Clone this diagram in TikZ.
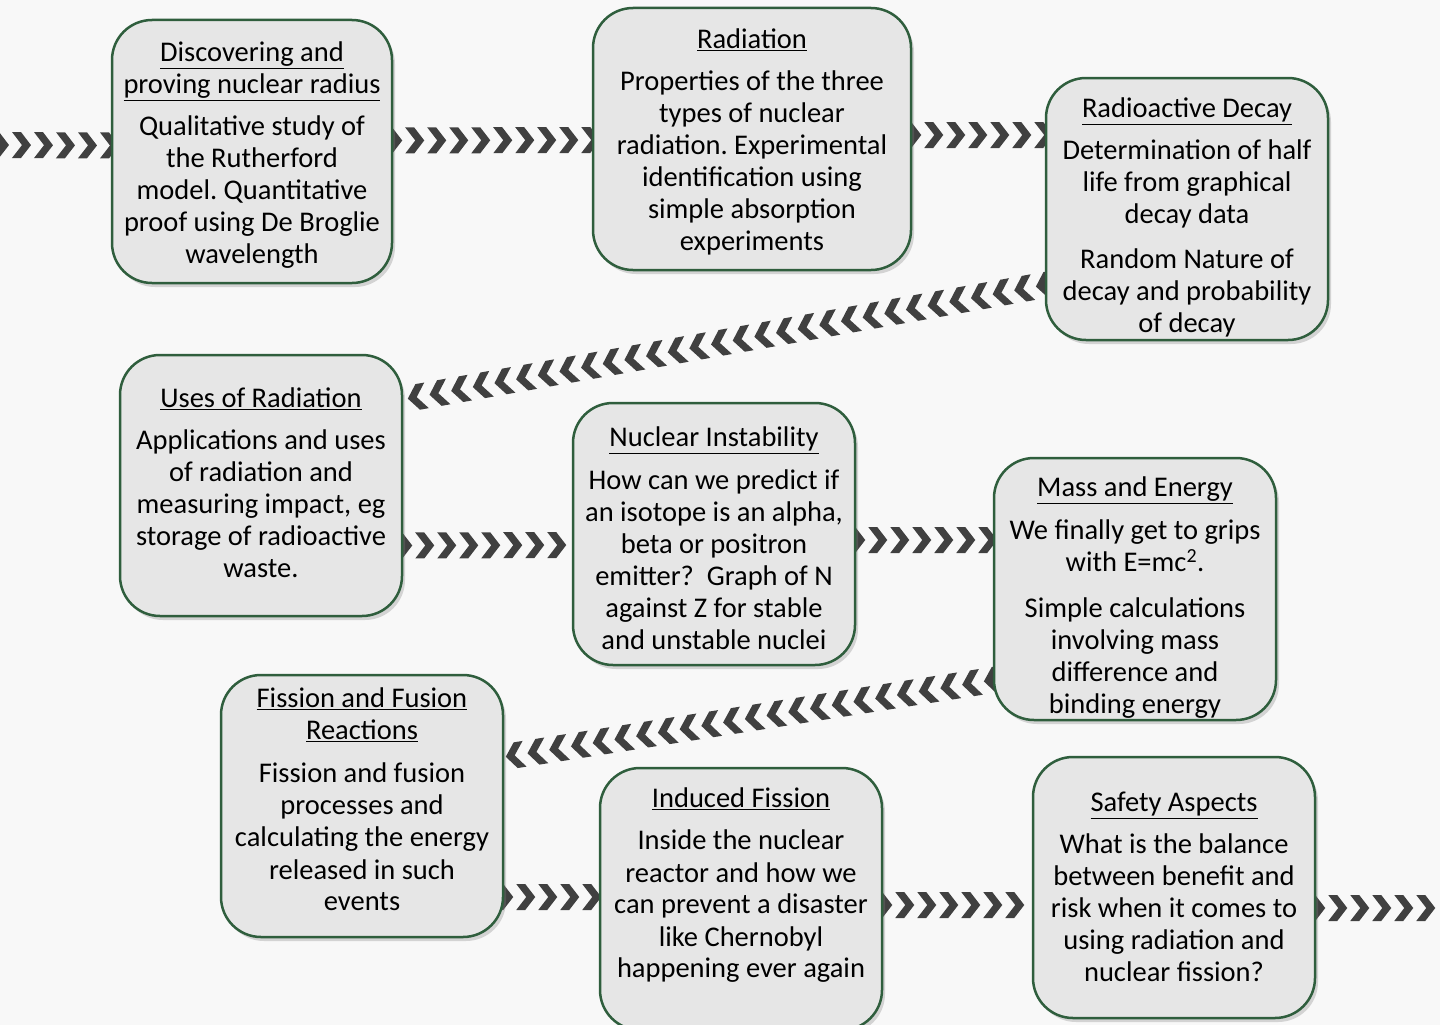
\documentclass[tikz,border=0pt]{standalone}
\usepackage{fontspec}
\setmainfont{Carlito}
\frenchspacing
\usetikzlibrary{positioning, calc, shadows, decorations.markings, backgrounds}
\definecolor{boxgreen}{HTML}{2F5E3D}
\definecolor{boxgrey}{HTML}{E6E6E6}
\definecolor{chevgrey}{HTML}{404040}
\definecolor{pagegrey}{HTML}{F8F8F8}
\tikzset{x=1pt, y=-1pt,
  topic/.style={draw=boxgreen, line width=2.5pt, fill=boxgrey, rounded corners=40pt,
    minimum width=282pt, minimum height=262pt,
    drop shadow={opacity=0.3, shadow xshift=3pt, shadow yshift=-4pt}},
  blurb/.style={anchor=north, align=center, inner sep=0pt, font=\fontsize{28.5}{32}\selectfont},
  chevrons/.style={decoration={markings, mark=between positions 0 and 1 step 22pt with
    {\fill[chevgrey] (-10pt,13pt) -- (-1pt,13pt) -- (9pt,0pt) -- (-1pt,-13pt) -- (-10pt,-13pt) -- (0pt,0pt) -- cycle;}},
    decorate}
}

\begin{document}
\begin{tikzpicture}
    \useasboundingbox (0,0) rectangle (1440,1025);
    % topic boxes
    \node[topic, minimum width=280pt, minimum height=263pt] (radius) at (252,151.5) {};
    \node[topic, minimum width=318pt] (radiation) at (752,139) {};
    \node[topic] (decay) at (1187,209) {};
    \node[topic, minimum height=261pt] (uses) at (261,485.5) {};
    \node[topic] (instability) at (714,534) {};
    \node[topic] (massenergy) at (1135,589) {};
    \node[topic] (fission) at (362,806) {};
    \node[topic] (induced) at (741,899) {};
    \node[topic, minimum height=261pt] (safety) at (1174,887.5) {};

    % texts
    \node[blurb] (radius-txt) at (252,42) {\underline{Discovering and}\\\underline{proving nuclear radius}\\[10pt]
        Qualitative study of\\the Rutherford\\model. Quantitative\\proof using De Broglie\\wavelength};
    \node[blurb] (radiation-txt) at (752,29) {\underline{Radiation}\\[10pt]
        Properties of the three\\types of nuclear\\radiation. Experimental\\identification using\\simple absorption\\experiments};
    \node[blurb] (decay-txt) at (1187,98) {\underline{Radioactive Decay}\\[10pt]
        Determination of half\\life from graphical\\decay data\\[13pt]
        Random Nature of\\decay and probability\\of decay};
    \node[blurb] (uses-txt) at (261,388) {\underline{Uses of Radiation}\\[10pt]
        Applications and uses\\of radiation and\\measuring impact, eg\\storage of radioactive\\waste.};
    \node[blurb] (instability-txt) at (714,427) {\underline{Nuclear Instability}\\[11pt]
        How can we predict if\\an isotope is an alpha,\\beta or positron\\emitter?~ Graph of N\\against Z for stable\\and unstable nuclei};
    \node[blurb] (massenergy-txt) at (1135,477) {\underline{Mass and Energy}\\[11pt]
        We finally get to grips\\with E=mc\textsuperscript{2}.\\[14pt]
        Simple calculations\\involving mass\\difference and\\binding energy};
    \node[blurb] (fission-txt) at (362,688) {\underline{Fission and Fusion}\\\underline{Reactions}\\[11pt]
        Fission and fusion\\processes and\\calculating the energy\\released in such\\events};
    \node[blurb] (induced-txt) at (741,788) {\underline{Induced Fission}\\[10pt]
        Inside the nuclear\\reactor and how we\\can prevent a disaster\\like Chernobyl\\happening ever again};
    \node[blurb] (safety-txt) at (1174,792) {\underline{Safety Aspects}\\[10pt]
        What is the balance\\between benefit and\\risk when it comes to\\using radiation and\\nuclear fission?};

    \coordinate (inflow) at (0,145);
    \coordinate (outflow) at (1440,908);

    % chevron connectors behind the boxes
    \begin{scope}[on background layer]
        \fill[pagegrey] (0,0) rectangle (1440,1025);
        \path[chevrons] (inflow) -- ($(radius.west)+(0,-6)$);
        \path[chevrons] ($(radius.east)+(0,-11)$) -- ($(radiation.west)+(0,1)$);
        \path[chevrons] ($(radiation.east)+(0,-4)$) -- ($(decay.west)+(0,-74)$);
        \path[chevrons] ($(decay.west)+(0,76)$) -- ($(uses.east)+(0,-86)$);
        \path[chevrons] ($(uses.east)+(0,60)$) -- ($(instability.west)+(0,11)$);
        \path[chevrons] ($(instability.east)+(0,6)$) -- ($(massenergy.west)+(0,-49)$);
        \path[chevrons] ($(massenergy.west)+(0,91)$) -- ($(fission.east)+(0,-49)$);
        \path[chevrons] ($(fission.east)+(0,91)$) -- ($(induced.west)+(0,-2)$);
        \path[chevrons] ($(induced.east)+(0,6)$) -- ($(safety.west)+(0,17.5)$);
        \path[chevrons] ($(safety.east)+(0,20.5)$) -- (outflow);
    \end{scope}
\end{tikzpicture}
\end{document}
